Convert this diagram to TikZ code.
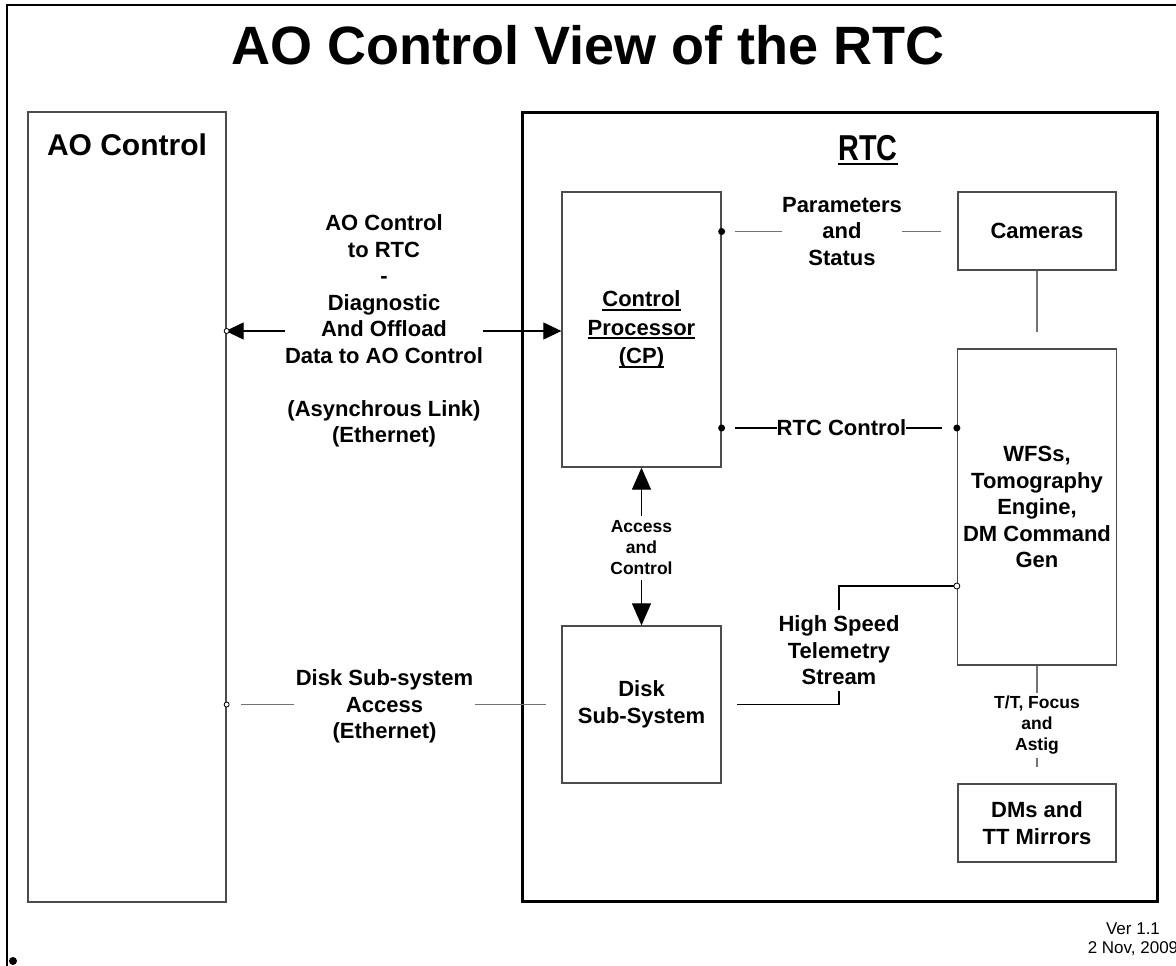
\documentclass[tikz,border=0pt]{standalone}
\usepackage{fontspec}
\setmainfont{Liberation Sans}
\usepackage{graphicx}
\usetikzlibrary{arrows.meta}

% underline drawn as a rule of its own thickness
\newcommand\ulbox[1]{\setbox0\hbox{#1}\rlap{\rule[-4pt]{\wd0}{1.8pt}}\box0}
\newcommand\lblfont{\fontsize{22}{26.5}\selectfont\bfseries}
\newcommand\smallfont{\fontsize{17.5}{21}\selectfont\bfseries}

\tikzset{
  box/.style={draw=black!70, line width=1.3pt, inner sep=0pt, align=center, font=\lblfont},
  lab/.style={align=center, font=\lblfont, inner sep=0pt},
  smalllab/.style={align=center, font=\smallfont, inner sep=0pt},
  conn/.style={line width=1.2pt, black},
  conngray/.style={line width=1.2pt, black!55},
  bigarrow/.style={line width=1.2pt, -{Triangle[length=18pt,width=17pt]}},
  vertarrow/.style={line width=1.2pt, -{Triangle[length=22pt,width=19pt]}},
  joint/.style={fill=black},
  opendot/.style={draw=black, fill=white, line width=0.8pt},
}

\begin{document}
\begin{tikzpicture}[x=1pt, y=-1pt]
\useasboundingbox (0,0) rectangle (1176,966);
\fill[white] (0,0) rectangle (1176,966);

% slide frame and bullet
\draw[line width=2.5pt] (7,966) -- (7,5) -- (1176,5);
\fill (13,961) circle (4);

% title
\node[font=\fontsize{54}{60}\selectfont\bfseries] (title) at (588,45) {AO Control View of the RTC};

% AO Control block
\node[box, minimum width=198, minimum height=790] (ao) at (127,507) {};
\node[font=\fontsize{30}{36}\selectfont\bfseries] (aohead) at (127,145) {AO Control};

% RTC block
\node[draw, line width=3pt, minimum width=635, minimum height=789, inner sep=0pt] (rtc) at (839.5,506.5) {};
\node[font=\fontsize{36}{40}\selectfont\bfseries] (rtchead) at (868,150) {\scalebox{0.8}[1]{\ulbox{RTC}}};

% RTC sub-systems
\node[box, minimum width=159, minimum height=275, font=\fontsize{22}{28.5}\selectfont\bfseries] (cp) at (641.5,329.5)
  {\ulbox{Control}\\\ulbox{Processor}\\\ulbox{(CP)}};
\node[box, minimum width=159, minimum height=157] (disk) at (641.5,704.5) {Disk\\Sub-System};
\node[box, minimum width=158, minimum height=78] (cameras) at (1037,231) {Cameras};
\node[box, minimum width=159, minimum height=316] (wfs) at (1037,507)
  {WFSs,\\Tomography\\Engine,\\DM Command\\Gen};
\node[box, minimum width=158, minimum height=78] (dms) at (1037,823) {DMs and\\TT Mirrors};

% AO Control <-> CP link
\node[lab] (link) at (384,331)
  {AO Control\\to RTC\\-\\Diagnostic\\And Offload\\Data to AO Control\\\mbox{}\\(Asynchrous Link)\\(Ethernet)};
\draw[bigarrow, shorten >=-1pt] (link.west) -- (ao.east |- link.west);
\draw[bigarrow] (link.east) -- (cp.west |- link.east);
\draw[opendot] (ao.east |- link.west) circle (2.5);

% Parameters and status
\node[lab] (par) at (842,231.5) {Parameters\\and\\Status};
\draw[conngray, shorten >=13pt] (par.west) -- (par.west -| cp.east);
\draw[conngray, shorten >=16pt] (par.east) -- (par.east -| cameras.west);
\fill[joint] (par.west -| cp.east) circle (3.5);

% RTC control
\node[lab] (rtcc) at (841.5,428) {RTC Control};
\draw[conn, shorten >=13pt] (rtcc.west) -- (rtcc.west -| cp.east);
\draw[conn, shorten >=15pt] (rtcc.east) -- (rtcc.east -| wfs.west);
\fill[joint] (rtcc.west -| cp.east) circle (3.5);
\fill[joint] (rtcc.east -| wfs.west) circle (3.5);

% Cameras to WFSs
\draw[conngray, shorten >=16pt] (cameras.south) -- (wfs.north);

% WFSs to mirrors
\node[smalllab, inner ysep=3.5pt] (tt) at (1037,725.5) {T/T, Focus\\and\\Astig};
\draw[conngray] (wfs.south) -- (tt.north);
\draw[conngray, shorten >=16pt] (tt.south) -- (dms.north);

% CP <-> disk
\node[smalllab, inner ysep=5pt] (acc) at (641.5,548) {Access\\and\\Control};
\draw[vertarrow] (acc.north) -- (cp.south);
\draw[vertarrow] (acc.south) -- (disk.north);

% telemetry stream
\node[lab, inner ysep=6pt] (tel) at (839,650.5) {High Speed\\Telemetry\\Stream};
\draw[conn] (tel.north) |- ([yshift=-79pt]wfs.west);
\draw[conn, shorten >=15pt] (tel.south) |- (disk.east);
\draw[opendot] ([yshift=-79pt]wfs.west) circle (3);

% disk access from AO Control
\node[lab, inner xsep=2pt] (dacc) at (384.5,706.8) {Disk Sub-system\\Access\\(Ethernet)};
\draw[conngray, shorten >=14pt] (dacc.west |- disk.east) -- (ao.east |- disk.east);
\draw[conngray, shorten >=15pt] (dacc.east |- disk.east) -- (disk.west);
\draw[opendot] (ao.east |- disk.east) circle (2.5);

% version note
\node[font=\fontsize{17}{18.5}\selectfont, align=center, inner sep=0pt] (ver) at (1133,939) {Ver 1.1\\2 Nov, 2009};
\end{tikzpicture}
\end{document}
